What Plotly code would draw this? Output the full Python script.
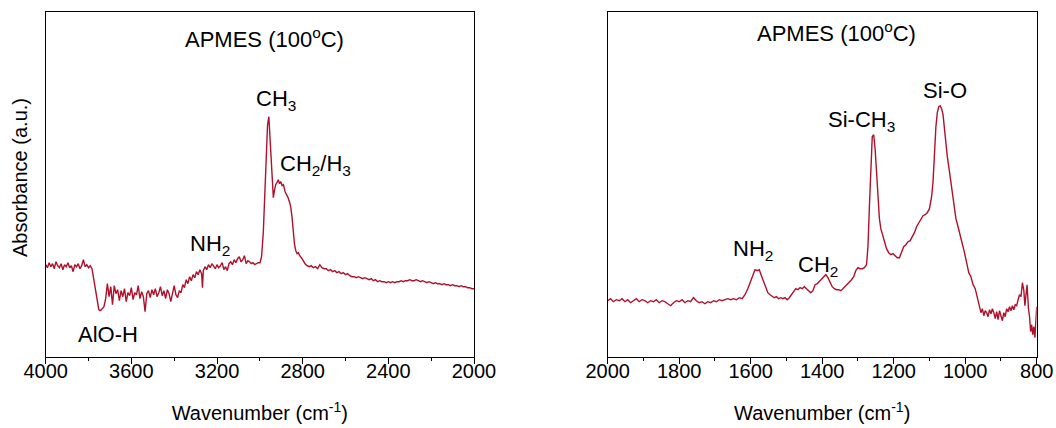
import plotly.graph_objects as go
from plotly.subplots import make_subplots

# ---- High-wavenumber region (4000-2000 cm-1) ----
wn_high = [
    4000, 3992, 3984, 3976, 3968, 3960, 3952, 3944, 3936, 3928, 3920, 3912, 3904, 3896,
    3888, 3880, 3872, 3864, 3856, 3848, 3840, 3832, 3824, 3816, 3808, 3800, 3792, 3784,
    3776, 3768, 3760, 3752, 3744, 3736, 3728, 3720, 3712, 3704, 3696, 3688, 3680, 3672,
    3664, 3656, 3648, 3640, 3632, 3624, 3616, 3608, 3600, 3592, 3584, 3576, 3568, 3560,
    3552, 3544, 3536, 3528, 3520, 3512, 3504, 3496, 3488, 3480, 3472, 3464, 3456, 3448,
    3440, 3432, 3424, 3416, 3408, 3400, 3392, 3384, 3376, 3368, 3360, 3352, 3344, 3336,
    3328, 3320, 3312, 3304, 3296, 3288, 3280, 3272, 3268, 3264, 3256, 3248, 3240, 3232,
    3224, 3216, 3208, 3200, 3192, 3184, 3176, 3168, 3160, 3152, 3144, 3136, 3128, 3120,
    3112, 3104, 3096, 3088, 3080, 3072, 3064, 3056, 3048, 3040, 3032, 3024, 3016, 3008,
    2999, 2992, 2984, 2976, 2970, 2964, 2958, 2954, 2948, 2942, 2937, 2932, 2926, 2920,
    2914, 2908, 2902, 2896, 2890, 2882, 2876, 2868, 2862, 2856, 2850, 2844, 2838, 2832,
    2826, 2820, 2814, 2806, 2798, 2789, 2780, 2770, 2760, 2750, 2740, 2730, 2720, 2710,
    2700, 2690, 2680, 2670, 2660, 2650, 2640, 2630, 2620, 2610, 2600, 2590, 2580, 2570,
    2560, 2550, 2540, 2530, 2520, 2510, 2500, 2490, 2480, 2470, 2460, 2450, 2440, 2430,
    2420, 2410, 2400, 2390, 2380, 2370, 2360, 2350, 2340, 2330, 2320, 2310, 2300, 2290,
    2280, 2270, 2260, 2250, 2240, 2230, 2220, 2210, 2200, 2190, 2180, 2170, 2160, 2150,
    2140, 2130, 2120, 2110, 2100, 2090, 2080, 2070, 2060, 2050, 2040, 2030, 2020, 2010,
    2000,
]
abs_high = [
    0.092, 0.089, 0.094, 0.090, 0.093, 0.088, 0.095, 0.091, 0.089, 0.093, 0.087, 0.092, 0.090, 0.094,
    0.089, 0.091, 0.085, 0.092, 0.090, 0.093, 0.088, 0.091, 0.097, 0.090, 0.092, 0.089, 0.091, 0.088,
    0.078, 0.066, 0.054, 0.047, 0.046, 0.048, 0.050, 0.058, 0.073, 0.060, 0.070, 0.052, 0.071, 0.063,
    0.067, 0.056, 0.066, 0.060, 0.068, 0.055, 0.064, 0.061, 0.069, 0.057, 0.064, 0.062, 0.071, 0.058,
    0.065, 0.060, 0.045, 0.063, 0.066, 0.059, 0.067, 0.062, 0.068, 0.060, 0.064, 0.070, 0.061, 0.066,
    0.058, 0.067, 0.063, 0.055, 0.064, 0.071, 0.062, 0.059, 0.066, 0.064, 0.072, 0.069, 0.077, 0.073,
    0.080, 0.076, 0.082, 0.079, 0.085, 0.082, 0.087, 0.083, 0.069, 0.086, 0.090, 0.087, 0.092, 0.089,
    0.093, 0.090, 0.088, 0.092, 0.089, 0.091, 0.094, 0.087, 0.090, 0.086, 0.093, 0.095, 0.092, 0.097,
    0.094, 0.098, 0.100, 0.095, 0.097, 0.101, 0.093, 0.096, 0.095, 0.093, 0.094, 0.092, 0.093, 0.094,
    0.094, 0.100, 0.124, 0.165, 0.200, 0.232, 0.240, 0.225, 0.195, 0.172, 0.159, 0.166, 0.172, 0.174,
    0.177, 0.173, 0.175, 0.171, 0.172, 0.165, 0.163, 0.159, 0.155, 0.150, 0.140, 0.124, 0.112, 0.106,
    0.103, 0.104, 0.101, 0.099, 0.096, 0.093, 0.091, 0.090, 0.091, 0.089, 0.090, 0.088, 0.092, 0.089,
    0.088, 0.088, 0.086, 0.087, 0.085, 0.086, 0.084, 0.085, 0.083, 0.084, 0.082, 0.083, 0.081, 0.080,
    0.080, 0.079, 0.080, 0.079, 0.078, 0.079, 0.078, 0.077, 0.078, 0.076, 0.077, 0.075, 0.076, 0.075,
    0.075, 0.074, 0.075, 0.074, 0.075, 0.074, 0.075, 0.075, 0.076, 0.075, 0.076, 0.076, 0.077, 0.076,
    0.076, 0.077, 0.076, 0.075, 0.076, 0.075, 0.074, 0.075, 0.074, 0.073, 0.074, 0.073, 0.073, 0.072,
    0.073, 0.072, 0.072, 0.071, 0.072, 0.071, 0.071, 0.070, 0.071, 0.070, 0.070, 0.069, 0.069, 0.068,
    0.068,
]

# ---- Fingerprint region (2000-800 cm-1) ----
wn_low = [
    2000, 1992, 1984, 1976, 1968, 1960, 1952, 1944, 1936, 1928, 1920, 1912, 1904, 1896,
    1888, 1880, 1872, 1864, 1856, 1848, 1840, 1832, 1824, 1816, 1808, 1800, 1792, 1784,
    1776, 1768, 1760, 1752, 1744, 1736, 1728, 1720, 1712, 1704, 1696, 1688, 1680, 1672,
    1664, 1656, 1648, 1640, 1632, 1624, 1616, 1608, 1600, 1594, 1588, 1582, 1576, 1570,
    1564, 1558, 1552, 1546, 1540, 1534, 1528, 1522, 1516, 1510, 1504, 1498, 1492, 1486,
    1480, 1474, 1468, 1462, 1456, 1450, 1444, 1438, 1432, 1426, 1420, 1414, 1408, 1402,
    1396, 1390, 1384, 1378, 1372, 1366, 1360, 1354, 1348, 1342, 1336, 1330, 1324, 1318,
    1312, 1306, 1300, 1294, 1288, 1282, 1276, 1272, 1268, 1264, 1260, 1256, 1252, 1248,
    1244, 1240, 1236, 1232, 1228, 1224, 1220, 1214, 1208, 1202, 1196, 1190, 1184, 1178,
    1172, 1166, 1160, 1154, 1148, 1142, 1136, 1130, 1124, 1118, 1112, 1106, 1100, 1094,
    1090, 1086, 1082, 1078, 1074, 1070, 1066, 1062, 1058, 1054, 1050, 1044, 1038, 1032,
    1026, 1020, 1014, 1008, 1002, 996, 990, 984, 978, 972, 966, 960, 956, 952,
    948, 944, 940, 936, 932, 928, 924, 920, 916, 912, 908, 904, 900, 896,
    892, 888, 884, 880, 876, 872, 868, 864, 860, 856, 852, 848, 844, 840,
    836, 833, 830, 827, 823, 820, 817, 814, 811, 808, 805, 802, 800,
]
abs_low = [
    0.056, 0.058, 0.055, 0.057, 0.056, 0.058, 0.055, 0.057, 0.054, 0.056, 0.058, 0.055, 0.057, 0.056,
    0.054, 0.056, 0.055, 0.057, 0.054, 0.056, 0.055, 0.053, 0.051, 0.054, 0.056, 0.055, 0.057, 0.054,
    0.056, 0.055, 0.059, 0.056, 0.054, 0.055, 0.053, 0.055, 0.054, 0.056, 0.055, 0.057, 0.056, 0.057,
    0.058, 0.057, 0.058, 0.057, 0.059, 0.058, 0.062, 0.068, 0.076, 0.082, 0.087, 0.086, 0.087, 0.081,
    0.075, 0.069, 0.064, 0.062, 0.060, 0.059, 0.060, 0.058, 0.059, 0.058, 0.059, 0.057, 0.059, 0.062,
    0.064, 0.068, 0.067, 0.069, 0.068, 0.070, 0.068, 0.066, 0.064, 0.066, 0.072, 0.073, 0.075, 0.077,
    0.080, 0.082, 0.079, 0.074, 0.070, 0.068, 0.067, 0.067, 0.066, 0.068, 0.070, 0.072, 0.074, 0.077,
    0.080, 0.086, 0.089, 0.088, 0.088, 0.089, 0.092, 0.110, 0.150, 0.195, 0.220, 0.222, 0.208, 0.185,
    0.155, 0.138, 0.128, 0.123, 0.117, 0.112, 0.108, 0.104, 0.102, 0.103, 0.101, 0.099, 0.099, 0.104,
    0.110, 0.112, 0.115, 0.116, 0.120, 0.124, 0.130, 0.134, 0.138, 0.141, 0.142, 0.144, 0.148, 0.160,
    0.175, 0.205, 0.230, 0.244, 0.250, 0.251, 0.248, 0.242, 0.228, 0.212, 0.200, 0.185, 0.170, 0.155,
    0.138, 0.130, 0.122, 0.114, 0.104, 0.094, 0.084, 0.080, 0.072, 0.068, 0.058, 0.050, 0.044, 0.048,
    0.041, 0.046, 0.044, 0.040, 0.047, 0.043, 0.048, 0.044, 0.038, 0.045, 0.037, 0.046, 0.042, 0.036,
    0.044, 0.040, 0.048, 0.045, 0.050, 0.046, 0.051, 0.047, 0.052, 0.051, 0.057, 0.062, 0.060, 0.074,
    0.066, 0.051, 0.062, 0.072, 0.048, 0.040, 0.025, 0.032, 0.022, 0.030, 0.019, 0.036, 0.050,
]

high_ticks = [4000, 3600, 3200, 2800, 2400, 2000]
low_ticks = [2000, 1800, 1600, 1400, 1200, 1000, 800]

panel_title = "APMES (100<sup>o</sup>C)"
x_title = "Wavenumber (cm<sup>-1</sup>)"
y_title = "Absorbance (a.u.)"

# band assignments: (text, wavenumber, absorbance) for label placement
high_labels = [
    ("CH<sub>3</sub>", 2925, 0.257),
    ("CH<sub>2</sub>/H<sub>3</sub>", 2738, 0.192),
    ("NH<sub>2</sub>", 3233, 0.112),
    ("AlO-H", 3709, 0.022),
]
low_labels = [
    ("NH<sub>2</sub>", 1594, 0.107),
    ("CH<sub>2</sub>", 1412, 0.091),
    ("Si-CH<sub>3</sub>", 1289, 0.236),
    ("Si-O", 1056, 0.266),
]

LINE = "#B0102B"
FONT = "Liberation Sans, Arial, sans-serif"
W, H = 1056, 428

fig = make_subplots(rows=1, cols=2)

fig.add_trace(go.Scatter(x=wn_high, y=abs_high, mode="lines",
                         line=dict(color=LINE, width=1.4), showlegend=False), row=1, col=1)
fig.add_trace(go.Scatter(x=wn_low, y=abs_low, mode="lines",
                         line=dict(color=LINE, width=1.4), showlegend=False), row=1, col=2)

ydom = [(H - 356.7) / H, (H - 12.3) / H]
axis_common = dict(showline=True, linecolor="black", linewidth=1.4, mirror=True,
                   showgrid=False, zeroline=False, automargin=False)

fig.update_xaxes(**axis_common, ticks="outside", ticklen=6, tickwidth=1.3, tickcolor="black",
                 ticklabelstandoff=-10,
                 tickfont=dict(family=FONT, size=20, color="black"),
                 title=dict(text=x_title, font=dict(family=FONT, size=20, color="black"), standoff=25))
fig.update_xaxes(domain=[45.7 / W, 474.0 / W], range=[4000, 2000], tickvals=high_ticks,
                 minor=dict(dtick=200, ticklen=3.5, tickwidth=1.2, tickcolor="black", ticks="outside"),
                 row=1, col=1)
fig.update_xaxes(domain=[607.7 / W, 1036.7 / W], range=[2000, 800], tickvals=low_ticks,
                 minor=dict(dtick=100, ticklen=3.5, tickwidth=1.2, tickcolor="black", ticks="outside"),
                 row=1, col=2)
fig.update_yaxes(**axis_common, ticks="", showticklabels=False, domain=ydom, range=[0, 0.3444])

annotations = []
for ref, labels, title_x in (("", high_labels, 2976), ("2", low_labels, 1361)):
    annotations.append(dict(text=panel_title, x=title_x, y=0.319 if ref == "" else 0.325,
                            xref="x" + ref, yref="y" + ref, showarrow=False,
                            font=dict(family=FONT, size=22, color="black")))
    for text, xv, yv in labels:
        annotations.append(dict(text=text, x=xv, y=yv, xref="x" + ref, yref="y" + ref,
                                showarrow=False, font=dict(family=FONT, size=22, color="black")))

annotations.append(dict(text=y_title, textangle=-90, x=20 / W, y=(H - 178) / H,
                        xref="paper", yref="paper", xanchor="center", yanchor="middle",
                        showarrow=False, font=dict(family=FONT, size=20, color="black")))

fig.update_layout(width=W, height=H, margin=dict(l=0, r=0, t=0, b=0),
                  paper_bgcolor="white", plot_bgcolor="white",
                  annotations=annotations)

fig.write_html("out.html")
